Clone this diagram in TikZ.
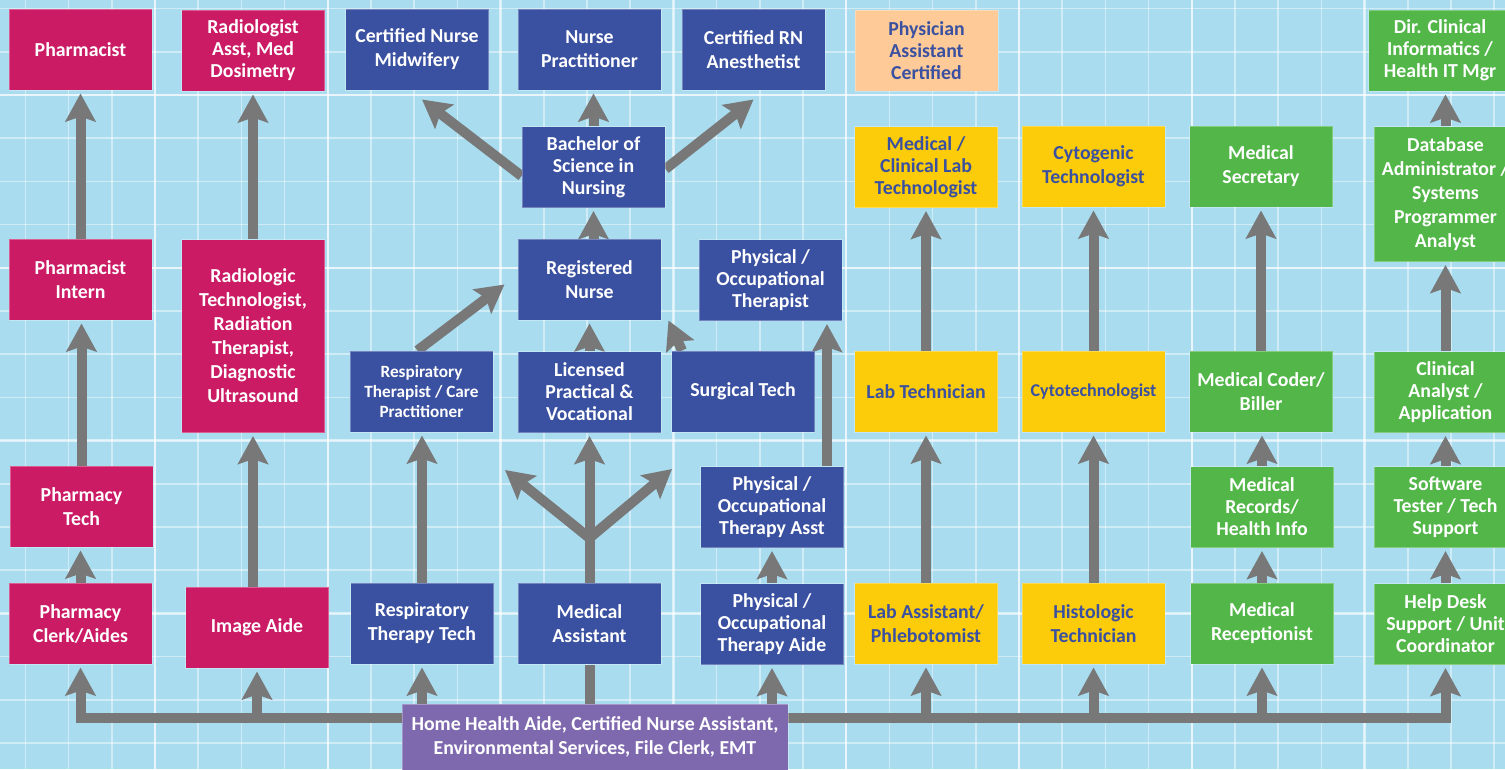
\documentclass[tikz,border=0pt]{standalone}
\usepackage{fontspec}
\setmainfont{Carlito}
\usetikzlibrary{arrows.meta}
\definecolor{mag}{RGB}{202,27,100}
\definecolor{nblue}{RGB}{58,80,160}
\definecolor{yel}{RGB}{252,203,10}
\definecolor{grn}{RGB}{82,182,72}
\definecolor{peach}{RGB}{253,202,152}
\definecolor{purp}{RGB}{126,105,175}
\definecolor{arrg}{RGB}{120,120,120}
\definecolor{bgblue}{RGB}{168,220,238}
\pgfdeclarelayer{bglayer}
\pgfdeclarelayer{connlayer}
\pgfsetlayers{bglayer,connlayer,main}
\begin{document}
\begin{tikzpicture}[x=1pt,y=-1pt,
  box/.style={minimum width=143pt, minimum height=81pt, inner sep=0pt, align=center,
    font=\bfseries\fontsize{19.8}{24}\selectfont, text=white, draw=white, draw opacity=0.3, line width=1pt},
  three/.style={font=\bfseries\fontsize{19.8}{22}\selectfont},
  smallfont/.style={font=\bfseries\fontsize{17.2}{20}\selectfont},
  mid/.style={font=\bfseries\fontsize{18}{22}\selectfont},
  magbox/.style={box, fill=mag},
  bluebox/.style={box, fill=nblue},
  yelbox/.style={box, fill=yel, text=nblue},
  grnbox/.style={box, fill=grn},
  bar/.style={draw=arrg, line width=10pt},
  arr/.style={bar, -{Stealth[width=30pt,length=28pt,inset=5pt]}, shorten >=3pt},
  diag/.style={bar, -{Stealth[width=30pt,length=28pt,inset=5pt]}},
  minorgrid/.style={draw=white, draw opacity=0.45, line width=1.5pt},
  majorgrid/.style={draw=white, draw opacity=0.55, line width=2.5pt}
]
\clip (0,0) rectangle (1505,769);
\begin{pgfonlayer}{bglayer}
\fill[bgblue] (0,0) rectangle (1505,769);
\foreach \i in {0,...,34} {\draw[minorgrid] ({25.4+43.2*\i},0) -- ({25.4+43.2*\i},769);}
\foreach \i in {0,...,17} {\draw[minorgrid] (0,{8.6+43.2*\i}) -- (1505,{8.6+43.2*\i});}
\foreach \i in {1,...,8} {\draw[majorgrid] ({-17.8+172.8*\i},0) -- ({-17.8+172.8*\i},769);}
\foreach \y in {95,267.8,440.6,613.4} {\draw[majorgrid] (0,\y) -- (1505,\y);}
\end{pgfonlayer}

% row 1
\node[magbox] (pharm) at (80.5,49.5) {Pharmacist};
\node[magbox, three] (radasst) at (253,50.5) {Radiologist\\Asst, Med\\Dosimetry};
\node[bluebox] (midwife) at (417,49.5) {Certified Nurse\\Midwifery};
\node[bluebox] (np) at (589.5,49.5) {Nurse\\Practitioner};
\node[bluebox] (crna) at (753.5,49.5) {Certified RN\\Anesthetist};
\node[box, three, fill=peach, text=nblue] (pa) at (926.5,50.5) {Physician\\Assistant\\Certified};
\node[grnbox, three] (dir) at (1440,50.5) {Dir. Clinical\\Informatics /\\Health IT Mgr};
% row 2
\node[bluebox, three] (bsn) at (593.5,167) {Bachelor of\\Science in\\Nursing};
\node[yelbox, three] (medlab) at (926,167) {Medical /\\Clinical Lab\\Technologist};
\node[yelbox] (cytogen) at (1093.5,166.5) {Cytogenic\\Technologist};
\node[grnbox] (medsec) at (1261,166.5) {Medical\\Secretary};
\node[grnbox, minimum height=135pt] (db) at (1445.5,194) {Database\\Administrator /\\Systems\\Programmer\\Analyst};
% row 3
\node[magbox] (intern) at (80.5,279.5) {Pharmacist\\Intern};
\node[magbox, minimum height=193pt] (radtech) at (253,336) {Radiologic\\Technologist,\\Radiation\\Therapist,\\Diagnostic\\Ultrasound};
\node[bluebox] (rn) at (589.5,279.5) {Registered\\Nurse};
\node[bluebox, three] (pt) at (770.5,280) {Physical /\\Occupational\\Therapist};
% row 4
\node[bluebox, smallfont] (rt) at (421.5,391.5) {Respiratory\\Therapist / Care\\Practitioner};
\node[bluebox, three] (lpn) at (589.5,392) {Licensed\\Practical \&\\Vocational};
\node[bluebox] (surg) at (743,391.5) {Surgical Tech};
\node[yelbox] (labtech) at (926,391.5) {Lab Technician};
\node[yelbox, mid] (cytotech) at (1093.5,391.5) {Cytotechnologist};
\node[grnbox] (coder) at (1261,391.5) {Medical Coder/\\Biller};
\node[grnbox, three] (clin) at (1445.5,392) {Clinical\\Analyst /\\Application};
% row 5
\node[magbox] (phtech) at (81.5,506.5) {Pharmacy\\Tech};
\node[bluebox, three] (pta) at (772,507) {Physical /\\Occupational\\Therapy Asst};
\node[grnbox, three] (records) at (1262,507) {Medical\\Records/\\Health Info};
\node[grnbox, three] (soft) at (1445.5,507) {Software\\Tester / Tech\\Support};
% row 6
\node[magbox] (clerk) at (80.5,623.5) {Pharmacy\\Clerk/Aides};
\node[magbox] (imgaide) at (257,627.5) {Image Aide};
\node[bluebox] (rtt) at (422,623.5) {Respiratory\\Therapy Tech};
\node[bluebox] (ma) at (589.5,623.5) {Medical\\Assistant};
\node[bluebox, three] (ptaide) at (772,624) {Physical /\\Occupational\\Therapy Aide};
\node[yelbox] (labasst) at (926,623.5) {Lab Assistant/\\Phlebotomist};
\node[yelbox] (histo) at (1093.5,623.5) {Histologic\\Technician};
\node[grnbox] (recept) at (1262,623.5) {Medical\\Receptionist};
\node[grnbox, three] (help) at (1445.5,624) {Help Desk\\Support / Unit\\Coordinator};
% base
\node[box, fill=purp, minimum width=386pt, minimum height=66pt] (home) at (595,737)
  {Home Health Aide, Certified Nurse Assistant,\\Environmental Services, File Clerk, EMT};

\coordinate (bus) at (0,718);
\coordinate (fork) at (589.5,538);
\coordinate (forkL) at (505,470);
\coordinate (forkR) at (672,469);

\begin{pgfonlayer}{connlayer}
% bus
\draw[bar, line cap=rect] (clerk.south |- bus) -- (help.south |- bus);
\foreach \n in {clerk,imgaide,rtt,ptaide,labasst,histo,recept,help}
  {\draw[arr] (\n.south |- bus) -- (\n.south);}
\draw[bar] (ma.south |- home.north) -- (ma.south);
% pharmacy
\draw[arr] (clerk.north) -- (clerk.north |- phtech.south);
\draw[arr] (phtech.north) -- (phtech.north |- intern.south);
\draw[arr] (intern.north) -- (pharm.south);
% radiology
\draw[arr] (radtech.south |- imgaide.north) -- (radtech.south);
\draw[arr] (radtech.north) -- (radasst.south);
% nursing
\draw[arr] (rtt.north) -- (rtt.north |- rt.south);
\draw[diag] ([xshift=-4pt]rt.north) -- ([xshift=-13pt,yshift=-5pt]rn.west);
\draw[arr] (ma.north) -- (lpn.south);
\draw[diag] (fork) -- (forkL);
\draw[diag] (fork) -- (forkR);
\draw[arr] (lpn.north) -- (rn.south);
\draw[diag] ([xshift=11pt]surg.north west) -- ([xshift=7pt]rn.south east);
\draw[arr] (bsn.south |- rn.north) -- (bsn.south);
\draw[arr] (bsn.north) -- (bsn.north |- np.south);
\draw[diag] ([yshift=-9pt]bsn.west) -- ([xshift=5pt,yshift=-9pt]midwife.south);
\draw[diag] ([yshift=-2pt]bsn.east) -- ([yshift=-9pt]crna.south);
% therapy
\draw[arr] (ptaide.north) -- (pta.south);
\draw[arr] ([xshift=-17pt]pta.north east) -- ([xshift=-17pt]pta.north east |- pt.south);
% lab
\draw[arr] (labasst.north) -- (labtech.south);
\draw[arr] (labtech.north) -- (labtech.north |- medlab.south);
\draw[arr] (histo.north) -- (cytotech.south);
\draw[arr] (cytotech.north) -- (cytogen.south);
% records / IT
\draw[arr] (recept.north) -- (records.south);
\draw[arr] (records.north) -- (records.north |- coder.south);
\draw[arr] (coder.north) -- (medsec.south);
\draw[arr] (help.north) -- (soft.south);
\draw[arr] (soft.north) -- (clin.south);
\draw[arr] (clin.north) -- (db.south);
\draw[arr] (db.north) -- (db.north |- dir.south);
\end{pgfonlayer}
\end{tikzpicture}
\end{document}
